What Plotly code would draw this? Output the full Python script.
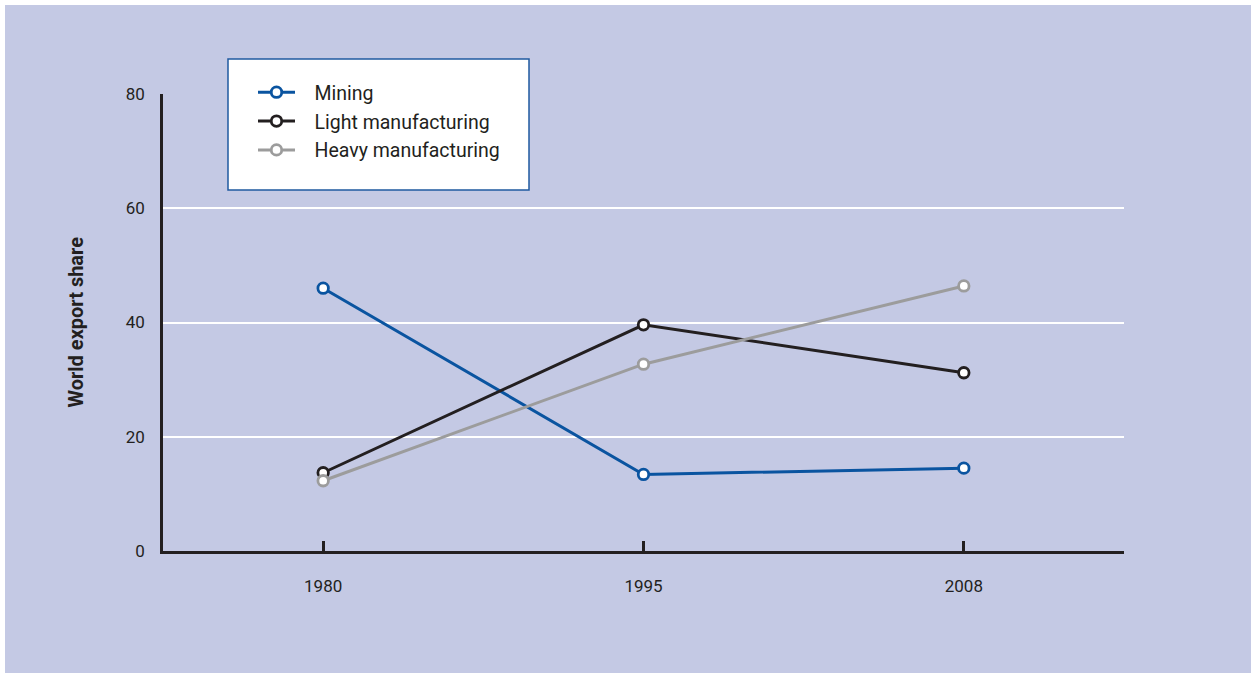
import plotly.graph_objects as go

years = ["1980", "1995", "2008"]
mining = [46.0, 13.4, 14.5]
light = [13.7, 39.6, 31.2]
heavy = [12.3, 32.7, 46.4]
y_ticks = [0, 20, 40, 60, 80]
y_title = "World export share"
names = ["Mining", "Light manufacturing", "Heavy manufacturing"]

BG = "#c4c9e4"
INK = "#231f20"
FONT = "Roboto, Liberation Sans, sans-serif"

W, H = 1251, 673
ML, MR, MT, MB = 163, 127, 94, 122
PW, PH = W - ML - MR, H - MT - MB

def px_x(x):
    return (x - ML) / PW

def px_y(y):
    return (H - MB - y) / PH

series = [
    (names[0], mining, "#0a54a0"),
    (names[1], light, INK),
    (names[2], heavy, "#9c9c9c"),
]

PAD = "\u00a0\u00a0\u00a0"

fig = go.Figure()
for name, vals, col in series:
    fig.add_trace(go.Scatter(
        x=years, y=vals, name=PAD + name, mode="lines+markers",
        line=dict(color=col, width=3),
        marker=dict(symbol="circle", size=10.5, color="white",
                    line=dict(color=col, width=2.8)),
        legendgroup=name,
    ))

shapes = [
    # white strips at top and left of the image
    dict(type="rect", xref="paper", yref="paper", x0=-1, x1=px_x(5), y0=-1, y1=2,
         fillcolor="white", line=dict(width=0), layer="below"),
    dict(type="rect", xref="paper", yref="paper", x0=-1, x1=2, y0=px_y(5), y1=2,
         fillcolor="white", line=dict(width=0), layer="below"),
    # legend box
    dict(type="rect", xref="paper", yref="paper", x0=px_x(228), x1=px_x(529),
         y0=px_y(190), y1=px_y(59), fillcolor="white",
         line=dict(color="#1f5aa0", width=1.5), layer="above"),
]

fig.update_layout(
    width=W, height=H,
    margin=dict(l=ML, r=MR, t=MT, b=MB, autoexpand=False),
    paper_bgcolor=BG, plot_bgcolor=BG,
    font=dict(family=FONT, color=INK, size=17),
    showlegend=True,
    legend=dict(
        x=px_x(253), y=px_y(73), xanchor="left", yanchor="top",
        bgcolor="rgba(0,0,0,0)", borderwidth=0,
        font=dict(family=FONT, size=19.5, color=INK),
        itemwidth=37, tracegroupgap=0.5,
    ),
    shapes=shapes,
    xaxis=dict(
        type="category", range=[-0.5, 2.5],
        showgrid=False, zeroline=False,
        showline=True, linecolor=INK, linewidth=2.5,
        ticks="inside", ticklen=10, tickwidth=2.5, tickcolor=INK,
        tickfont=dict(size=17, color=INK, family=FONT),
        ticklabelstandoff=18,
        fixedrange=True,
    ),
    yaxis=dict(
        range=[0, 80], tickvals=y_ticks,
        showgrid=True, gridcolor="white", gridwidth=2,
        zeroline=False,
        showline=True, linecolor=INK, linewidth=2.5,
        ticks="", tickfont=dict(size=17, color=INK, family=FONT),
        ticklabelstandoff=12,
        fixedrange=True,
    ),
    annotations=[
        dict(text="<b>" + y_title + "</b>", xref="paper", yref="paper",
             x=px_x(75), y=0.5, xanchor="center", yanchor="middle",
             textangle=-90, showarrow=False,
             font=dict(family=FONT, size=20, color=INK)),
    ],
)

fig.write_html("out.html", config=dict(displayModeBar=False),
               post_script="document.body.style.margin='0px';document.body.style.overflow='hidden';")
